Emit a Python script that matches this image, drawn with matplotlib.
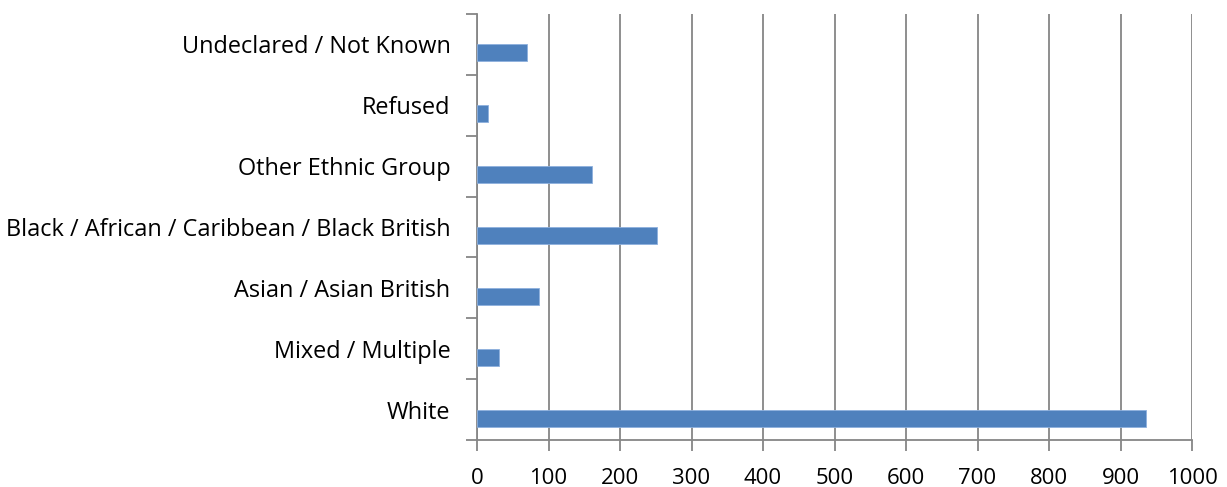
import numpy as np
import matplotlib
matplotlib.use("Agg")
import matplotlib.pyplot as plt
from matplotlib.ticker import FixedLocator

# Ethnic group counts
categories = ["White", "Mixed / Multiple", "Asian / Asian British",
              "Black / African / Caribbean / Black British",
              "Other Ethnic Group", "Refused", "Undeclared / Not Known"]
counts = [936, 31, 87, 252, 161, 16, 70]
xticks = [0, 100, 200, 300, 400, 500, 600, 700, 800, 900, 1000]

plt.rcParams["font.family"] = ["Open Sans", "DejaVu Sans"]

fig = plt.figure(figsize=(12.27, 4.87), dpi=100)
ax = fig.add_axes([477 / 1227, 1 - 440 / 487, 715 / 1227, 426 / 487])

y = np.arange(len(categories))
bar_h = 0.28
ax.barh(y - bar_h / 2, counts, height=bar_h, color="#4F81BD",
        edgecolor="#8DB0DD", linewidth=0.6, zorder=3)

ax.set_xlim(0, 1000)
ax.set_ylim(-0.5, len(categories) - 0.5)
ax.set_xticks(xticks)
ax.set_xticklabels([str(t) for t in xticks], fontsize=15.9)
ax.grid(axis="x", color="#868686", linewidth=1.3, zorder=0)

# category labels at band centres, tick marks at band edges
ax.set_yticks(y)
ax.set_yticklabels(categories, fontsize=16.9)
ax.tick_params(axis="y", which="major", length=0, pad=19)
ax.yaxis.set_minor_locator(FixedLocator(np.arange(-0.5, len(categories), 1)))
ax.tick_params(axis="y", which="minor", length=8, width=1.3, color="#868686")
ax.tick_params(axis="x", length=8, width=1.3, color="#868686", pad=12)

for side in ["top", "right"]:
    ax.spines[side].set_visible(False)
for side in ["left", "bottom"]:
    ax.spines[side].set_color("#868686")
    ax.spines[side].set_linewidth(1.3)

fig.savefig("out.png", dpi=100)
